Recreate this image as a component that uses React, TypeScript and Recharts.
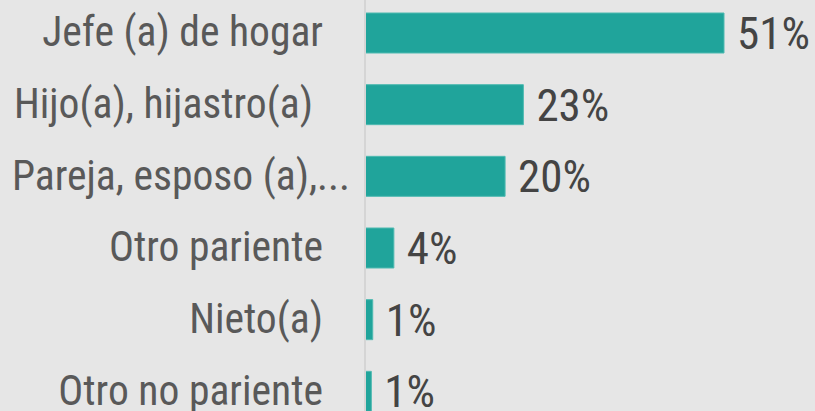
import React from 'react';
import { BarChart, Bar, XAxis, YAxis, LabelList } from 'recharts';

const categories = [
  'Jefe (a) de hogar',
  'Hijo(a), hijastro(a)',
  'Pareja, esposo (a),...',
  'Otro pariente',
  'Nieto(a)',
  'Otro no pariente',
];

const shares = [51.0, 22.5, 19.9, 4.1, 1.1, 0.9];

const data = categories.map((name, i) => ({ name, share: shares[i] }));

// the source renders a couple of labels slightly off the common right edge
const tickNudge: Record<string, number> = {
  'Hijo(a), hijastro(a)': -10,
  'Pareja, esposo (a),...': 27,
};

function CategoryTick(props: any) {
  const { x, y, payload } = props;
  const dx = tickNudge[payload.value] ?? 0;
  return (
    <text
      x={x + dx}
      y={y - 1}
      textAnchor="end"
      dominantBaseline="central"
      fontFamily="'Roboto Condensed', Roboto, sans-serif"
      fontSize={41.6}
      fill="#595959"
    >
      {payload.value}
    </text>
  );
}

export default function App() {
  return (
    <div
      style={{
        position: 'fixed',
        inset: 0,
        background: '#e6e6e6',
        overflow: 'hidden',
      }}
    >
      <div style={{ position: 'absolute', left: 0, top: -3 }}>
        <BarChart
          layout="vertical"
          width={815}
          height={430}
          data={data}
          margin={{ top: 0, right: 91, bottom: 0, left: 0 }}
        >
          <XAxis type="number" hide domain={[0, 51]} />
          <YAxis
            type="category"
            dataKey="name"
            width={365}
            tickLine={false}
            tickMargin={36}
            axisLine={{ stroke: '#d5d5d5', strokeWidth: 2 }}
            tick={<CategoryTick />}
            interval={0}
          />
          <Bar
            dataKey="share"
            fill="#20a49b"
            stroke="#4fbab1"
            strokeWidth={1}
            barSize={40}
            isAnimationActive={false}
          >
            <LabelList
              dataKey="share"
              position="right"
              offset={13}
              formatter={(v: any) => `${Math.round(Number(v))}%`}
              style={{
                fontFamily: "'Roboto Condensed', Roboto, sans-serif",
                fontSize: 45,
                fill: '#444444',
              }}
            />
          </Bar>
        </BarChart>
      </div>
    </div>
  );
}
